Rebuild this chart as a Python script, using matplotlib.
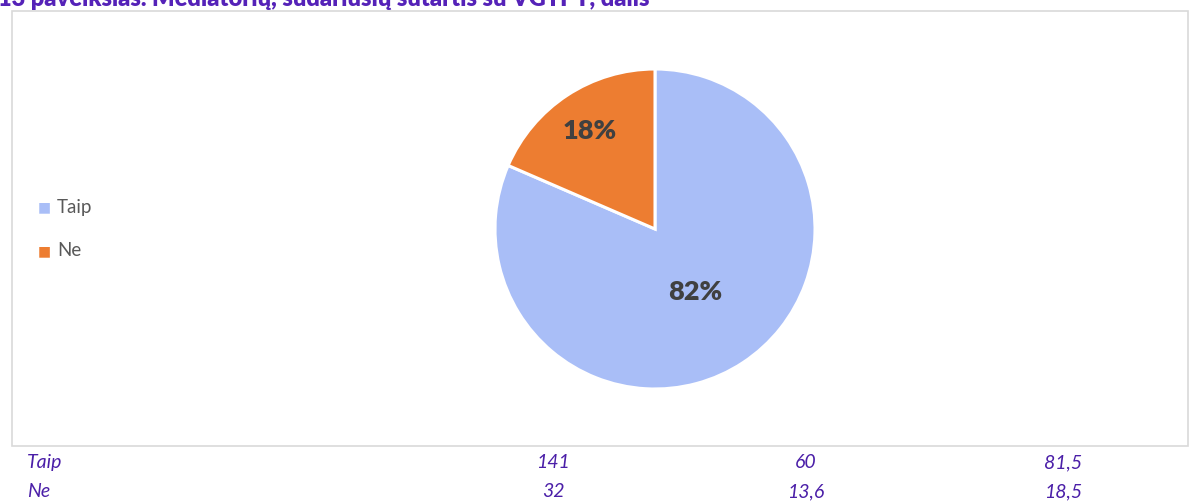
import numpy as np
import matplotlib.pyplot as plt
from matplotlib.patches import Rectangle

labels = ["Taip", "Ne"]
counts = [141, 32]
col2 = [60, 13.6]
shares = [81.5, 18.5]
colors = ["#A9BEF7", "#ED7D31"]

W, H = 1190, 502
fig = plt.figure(figsize=(W / 100, H / 100), dpi=100)
plt.rcParams['font.family'] = ['Lato', 'DejaVu Sans']

# chart area border
fig.patches.append(Rectangle((12 / W, 1 - 447 / H), (W - 14) / W, (447 - 12) / H,
                             transform=fig.transFigure, fill=False,
                             edgecolor="#D9D9D9", linewidth=1.2))

# title (cut off at top like the original)
fig.text(-2 / W, 1 - 6 / H, "13 paveikslas. Mediatorių, sudariusių sutartis su VGTPT, dalis",
         color="#5522B8", fontsize=17, fontweight="heavy", va="baseline", ha="left")

cx, cy, r = 655, 230, 160
ax = fig.add_axes([(cx - r) / W, (H - cy - r) / H, 2 * r / W, 2 * r / H])
wedges, texts, autotexts = ax.pie(shares, colors=colors, startangle=90, counterclock=False,
                                  autopct="%.0f%%", pctdistance=0.5,
                                  wedgeprops=dict(edgecolor="white", linewidth=2.2, clip_on=False),
                                  textprops=dict(color="#404040", fontsize=19.5, fontweight="heavy"))
ax.set_xlim(-1, 1)
ax.set_ylim(-1, 1)
ax.set_aspect("equal")

# label distances as in the original (best fit placement)
dists = [0.46, 0.74]
for w, t, d in zip(wedges, autotexts, dists):
    ang = np.deg2rad((w.theta1 + w.theta2) / 2)
    t.set_position((d * np.cos(ang), d * np.sin(ang)))

# legend
for i, (lab, c) in enumerate(zip(labels, colors)):
    y = 1 - (207 + 44 * i) / H
    fig.text(44 / W, y, "\u25A0", color=c, fontsize=10, va="center", ha="center")
    fig.text(57 / W, y, lab, color="#595959", fontsize=13.5, va="center", ha="left")

# data table under the chart
rows = [1 - 463 / H, 1 - 492 / H]
tcol = "#4B1FA8"
for i, lab in enumerate(labels):
    fig.text(27 / W, rows[i], lab, color=tcol, fontsize=14, style="italic", va="center")
    vals = [str(counts[i]), str(col2[i]).replace(".", ","), str(shares[i]).replace(".", ",")]
    for x, v in zip([553, 806, 1063], vals):
        fig.text(x / W, rows[i], v, color=tcol, fontsize=14, style="italic",
                 va="center", ha="center")

fig.savefig("out.png", dpi=100)
